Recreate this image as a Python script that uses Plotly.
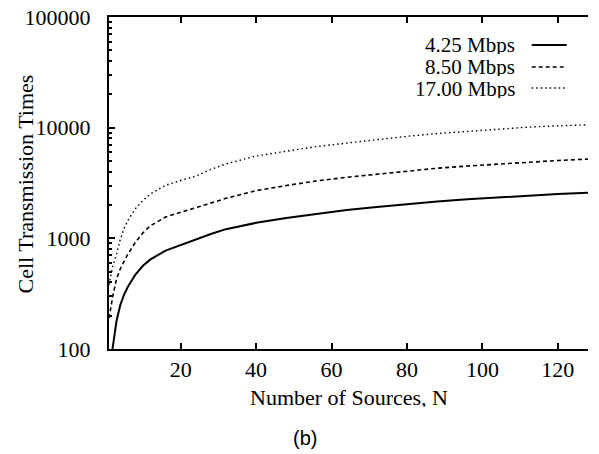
import plotly.graph_objects as go

N = [1, 2, 3, 4, 5, 6, 8, 10, 12, 16, 20, 24, 28, 32, 40, 48, 56, 64, 72, 80, 88, 96, 104, 112, 120, 128]
mbps_4_25 = [60, 105, 180, 250, 310, 365, 470, 565, 645, 775, 870, 980, 1095, 1210, 1380, 1530, 1670, 1800,
             1920, 2040, 2150, 2260, 2350, 2440, 2510, 2580]
mbps_8_50 = [190, 300, 430, 530, 620, 720, 920, 1120, 1300, 1560, 1720, 1880, 2080, 2300, 2700, 3000, 3300,
             3560, 3800, 4050, 4300, 4500, 4700, 4900, 5050, 5200]
mbps_17_00 = [380, 560, 720, 980, 1230, 1450, 1850, 2200, 2520, 3020, 3330, 3650, 4200, 4700, 5550, 6150, 6750,
              7250, 7800, 8350, 8850, 9250, 9700, 10100, 10400, 10600]
series_names = ["4.25 Mbps", "8.50 Mbps", "17.00 Mbps"]
x_ticks = [20, 40, 60, 80, 100, 120]
y_ticks = [100, 1000, 10000, 100000]

dashes = ["solid", "4px,3px", "1.5px,3px"]
widths = [2, 1.6, 1.4]
serif = "Liberation Serif, Times New Roman, serif"

fig = go.Figure()
for name, ys, d, w in zip(series_names, [mbps_4_25, mbps_8_50, mbps_17_00], dashes, widths):
    fig.add_trace(go.Scatter(x=N, y=ys, mode="lines", name=name,
                             line=dict(color="black", dash=d, width=w), showlegend=False))

# gnuplot-style key: label right-aligned, line sample to the right
key_y = [0.9157, 0.8494, 0.786]
for name, d, w, ky in zip(series_names, dashes, widths, key_y):
    fig.add_annotation(x=0.851, y=ky, xref="paper", yref="paper", text=name, showarrow=False,
                       xanchor="right", yanchor="middle", height=19,
                       font=dict(family=serif, size=21, color="black"))
    fig.add_shape(type="line", xref="paper", yref="paper", x0=0.8825, x1=0.9555, y0=ky, y1=ky,
                  line=dict(color="black", dash=d, width=w))

# axis titles
fig.add_annotation(x=-0.1733, y=0.4985, xref="paper", yref="paper", text="Cell Transmission Times",
                   textangle=-90, showarrow=False, xanchor="center", yanchor="middle",
                   font=dict(family=serif, size=22, color="black"))
fig.add_annotation(x=0.5, y=-0.146, xref="paper", yref="paper", text="Number of Sources, N",
                   showarrow=False, xanchor="center", yanchor="middle", height=20,
                   font=dict(family=serif, size=22, color="black"))
fig.add_annotation(x=0.409, y=-0.268, xref="paper", yref="paper", text="(b)", showarrow=False,
                   xanchor="center", yanchor="middle",
                   font=dict(family="Liberation Sans, Arial, sans-serif", size=20, color="black"))

fig.update_xaxes(range=[1, 128], tickvals=x_ticks, ticks="inside", ticklen=6, tickwidth=1.5,
                 tickcolor="black", showline=True, linecolor="black", linewidth=2, mirror="ticks",
                 showgrid=False, zeroline=False, ticklabelstandoff=0, automargin=False,
                 tickfont=dict(family=serif, size=22, color="black"))
yaxis_common = dict(type="log", range=[2, 5], tickvals=y_ticks,
                    ticks="inside", ticklen=6, tickwidth=1.5, tickcolor="black",
                    minor=dict(ticks="inside", ticklen=3, tickcolor="black", dtick="D1", showgrid=False),
                    showline=True, linecolor="black", linewidth=2,
                    showgrid=False, zeroline=False, automargin=False)
fig.update_layout(
    yaxis=dict(**yaxis_common, ticktext=[str(v) for v in y_ticks], ticklabelstandoff=12,
               tickfont=dict(family=serif, size=22, color="black")),
    yaxis2=dict(**yaxis_common, overlaying="y", side="right", showticklabels=False),
)

fig.update_layout(width=599, height=454, margin=dict(l=109, r=11, t=17, b=105, autoexpand=False),
                  paper_bgcolor="white", plot_bgcolor="white")

fig.write_html("out.html", config={"displayModeBar": False},
               post_script="document.body.style.margin='0';document.body.style.padding='0';")
